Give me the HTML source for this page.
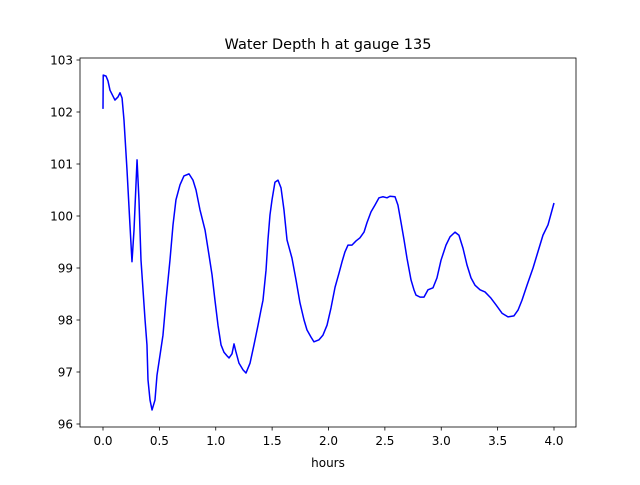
<!DOCTYPE html>
<html><head><meta charset="utf-8"><style>
body{margin:0;background:#fff;}
svg text{font-family:"DejaVu Sans","Liberation Sans",sans-serif;fill:#000;}
</style></head><body>
<svg width="640" height="480" xmlns="http://www.w3.org/2000/svg">
<rect width="640" height="480" fill="#fff"/>
<text x="328" y="49" font-size="14.5" text-anchor="middle">Water Depth h at gauge 135</text>
<g id="plot"></g>
<text x="328" y="467" font-size="12" text-anchor="middle">hours</text>
</svg>
<script>
const hours=[0,0.002,0.027,0.044,0.062,0.106,0.133,0.151,0.169,0.186,0.213,0.239,0.257,0.275,0.302,0.319,0.337,0.373,0.390,0.399,0.417,0.435,0.461,0.479,0.506,0.532,0.559,0.594,0.621,0.647,0.683,0.718,0.763,0.798,0.825,0.860,0.905,0.940,0.967,0.993,1.020,1.047,1.073,1.100,1.118,1.144,1.162,1.180,1.206,1.242,1.268,1.304,1.339,1.375,1.401,1.419,1.446,1.463,1.481,1.499,1.525,1.552,1.579,1.605,1.632,1.676,1.712,1.747,1.783,1.809,1.845,1.871,1.916,1.951,1.987,2.022,2.058,2.093,2.120,2.146,2.173,2.208,2.244,2.279,2.315,2.341,2.377,2.412,2.448,2.483,2.519,2.545,2.590,2.616,2.643,2.670,2.696,2.732,2.758,2.776,2.812,2.847,2.882,2.927,2.962,2.998,3.042,3.078,3.122,3.157,3.193,3.228,3.264,3.299,3.344,3.388,3.441,3.486,3.539,3.592,3.645,3.681,3.716,3.761,3.814,3.867,3.902,3.947,4.000];
const depth=[102.06,102.71,102.69,102.60,102.42,102.23,102.29,102.37,102.27,101.85,100.88,99.83,99.12,99.73,101.08,100.31,99.15,98.00,97.52,96.85,96.46,96.27,96.46,96.94,97.33,97.71,98.38,99.15,99.83,100.31,100.60,100.77,100.81,100.69,100.50,100.12,99.73,99.25,98.87,98.38,97.90,97.52,97.38,97.31,97.27,97.35,97.54,97.38,97.17,97.04,96.98,97.17,97.52,97.90,98.19,98.38,98.96,99.54,100.02,100.31,100.65,100.69,100.54,100.12,99.54,99.19,98.77,98.33,98.00,97.81,97.67,97.58,97.62,97.71,97.90,98.23,98.63,98.90,99.12,99.31,99.44,99.44,99.52,99.58,99.69,99.87,100.08,100.21,100.35,100.37,100.35,100.38,100.37,100.21,99.88,99.54,99.19,98.77,98.58,98.48,98.44,98.44,98.58,98.62,98.81,99.15,99.44,99.60,99.69,99.63,99.38,99.06,98.81,98.67,98.58,98.54,98.42,98.29,98.13,98.06,98.08,98.19,98.38,98.67,99.00,99.38,99.63,99.83,100.25];
const xTicks=[0,0.5,1,1.5,2,2.5,3,3.5,4];
const xTickLabels=["0.0","0.5","1.0","1.5","2.0","2.5","3.0","3.5","4.0"];
const yTicks=[96,97,98,99,100,101,102,103];
const yTickLabels=["96","97","98","99","100","101","102","103"];
const L=80,R=576,T=58,B=427;
const sx=v=>103+v*112.75;
const sy=v=>60+(103-v)*52;
const g=document.getElementById('plot');
const NS='http://www.w3.org/2000/svg';
function mk(t,a){const e=document.createElementNS(NS,t);for(const k in a)e.setAttribute(k,a[k]);g.appendChild(e);return e;}
let d='';
hours.forEach((h,i)=>{d+=(i?'L':'M')+sx(h).toFixed(2)+' '+sy(depth[i]).toFixed(2);});
const line=mk('path',{d:d,fill:'none',stroke:'#0000ff','stroke-width':1.5,'stroke-linejoin':'round'});


const frame=mk('rect',{x:L,y:T,width:R-L,height:B-T,fill:'none',stroke:'#000','stroke-width':0.8});


xTicks.forEach((v,i)=>{
  const x=sx(v);
  const t=mk('line',{x1:x,x2:x,y1:B,y2:B+3.5,stroke:'#000','stroke-width':0.8});
  
  
  const l=mk('text',{x:x,y:B+18,'font-size':'12','text-anchor':'middle'});
  l.textContent=xTickLabels[i];
  
  
});
yTicks.forEach((v,i)=>{
  const y=sy(v);
  const t=mk('line',{x1:L-3.5,x2:L,y1:y,y2:y,stroke:'#000','stroke-width':0.8});
  
  
  const l=mk('text',{x:L-7,y:y+4.5,'font-size':'12','text-anchor':'end'});
  l.textContent=yTickLabels[i];
  
  
});
</script>
</body></html>
